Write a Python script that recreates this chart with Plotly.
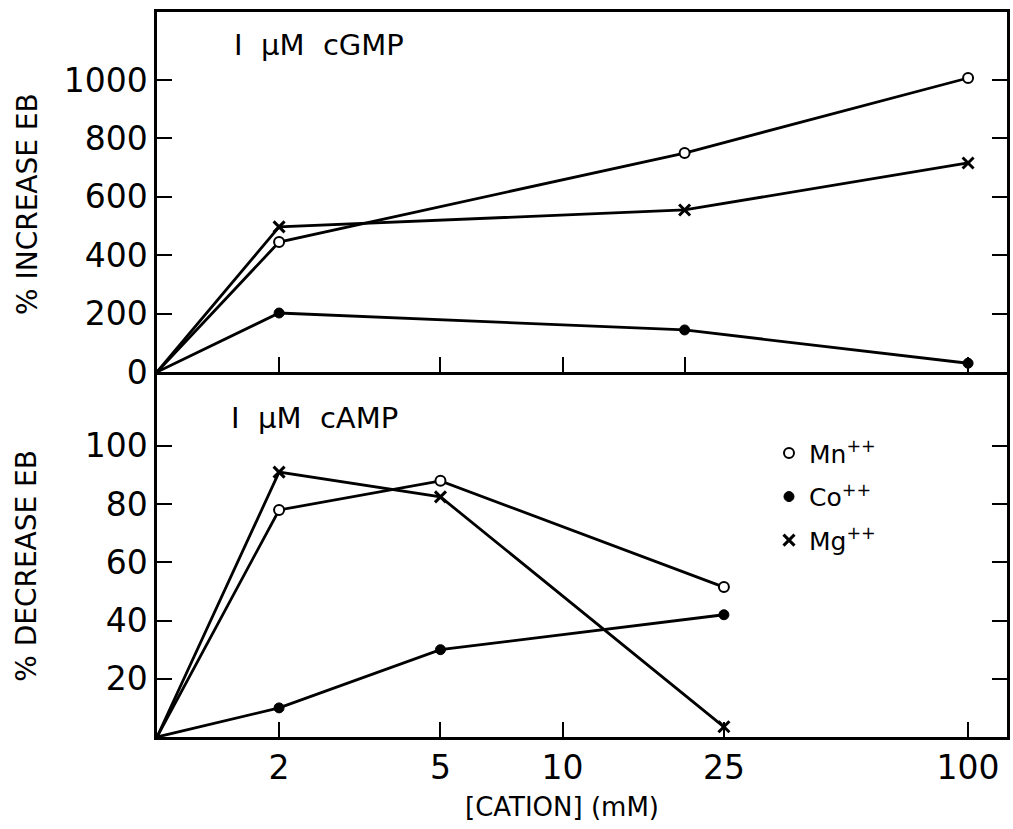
import plotly.graph_objects as go

# ---- data ----
# cation concentration (mM), origin drawn at 1 mM on the log axis
cgmp_x = [1, 2, 20, 100]
cgmp_mn = [0, 445, 750, 1007]
cgmp_co = [0, 202, 144, 30]
cgmp_mg = [0, 497, 555, 716]

camp_x = [1, 2, 5, 25]
camp_mn = [0, 78, 88, 51.5]
camp_co = [0, 10, 30, 42]
camp_mg = [0, 91, 82.5, 3.5]

top_ticks = [2, 5, 10, 20, 100]
bottom_ticks = [2, 5, 10, 25, 100]
bottom_tick_text = ["2", "5", "10", "25", "100"]
top_y_ticks = [0, 200, 400, 600, 800, 1000]
bottom_y_ticks = [20, 40, 60, 80, 100]

series_names = ["Mn<sup>++</sup>", "Co<sup>++</sup>", "Mg<sup>++</sup>"]

FONT = "DejaVu Sans"
BLACK = "black"

marker_styles = [
    dict(symbol="circle", size=10, color="white", line=dict(color=BLACK, width=2)),
    dict(symbol="circle", size=10, color=BLACK, line=dict(color=BLACK, width=1)),
    dict(symbol="x-thin", size=11, color=BLACK, line=dict(color=BLACK, width=3)),
]

fig = go.Figure()

panels = [
    (cgmp_x, [cgmp_mn, cgmp_co, cgmp_mg], "x2", "y2", False),
    (camp_x, [camp_mn, camp_co, camp_mg], "x", "y", True),
]

# lines first
for xs, ys_list, xa, ya, _ in panels:
    for ys in ys_list:
        fig.add_trace(go.Scatter(x=xs, y=ys, mode="lines", xaxis=xa, yaxis=ya,
                                 line=dict(color=BLACK, width=2.8),
                                 showlegend=False, hoverinfo="skip"))
# markers (not at origin)
for xs, ys_list, xa, ya, legend in panels:
    for name, ys, ms in zip(series_names, ys_list, marker_styles):
        fig.add_trace(go.Scatter(x=xs[1:], y=ys[1:], mode="markers", xaxis=xa, yaxis=ya,
                                 marker=ms, name=name, showlegend=legend,
                                 legendgroup=name, cliponaxis=False))

split = 365 / 725

axis_common = dict(showline=True, linecolor=BLACK, linewidth=2.5, ticks="inside",
                   tickcolor=BLACK, tickwidth=2, ticklen=15, showgrid=False,
                   zeroline=False, tickfont=dict(family=FONT, size=33, color=BLACK))

fig.update_layout(
    width=1013, height=829,
    margin=dict(l=157, r=3, t=12, b=92),
    paper_bgcolor="white", plot_bgcolor="white",
    font=dict(family=FONT, color=BLACK),
    xaxis=dict(type="log", range=[0, 2.096], domain=[0, 1], anchor="y",
               tickvals=bottom_ticks, ticktext=bottom_tick_text, mirror=False,
               **axis_common),
    yaxis=dict(range=[0, 125.4], domain=[0, split], anchor="x",
               tickvals=bottom_y_ticks, mirror="ticks", **axis_common),
    xaxis2=dict(type="log", range=[0, 2.096], domain=[0, 1], anchor="y2",
                tickvals=top_ticks, showticklabels=False, mirror=True,
                **axis_common),
    yaxis2=dict(range=[0, 1233], domain=[split, 1], anchor="x2",
                tickvals=top_y_ticks, mirror="ticks", **axis_common),
    legend=dict(x=0.72, y=0.423, xanchor="left", yanchor="top",
                bgcolor="rgba(0,0,0,0)", font=dict(family=FONT, size=25, color=BLACK),
                itemwidth=30, tracegroupgap=8),
    showlegend=True,
)

title_font = dict(family=FONT, size=29, color=BLACK)
axis_title_font = dict(family=FONT, size=28, color=BLACK)
fig.add_annotation(text="I  µM  cGMP", xref="paper", yref="paper", x=0.088, y=0.955,
                   xanchor="left", yanchor="middle", showarrow=False, font=title_font)
fig.add_annotation(text="I  µM  cAMP", xref="paper", yref="paper", x=0.085, y=0.44,
                   xanchor="left", yanchor="middle", showarrow=False, font=title_font)
fig.add_annotation(text="% INCREASE EB", xref="paper", yref="paper", x=-0.153, y=0.735,
                   textangle=-90, xanchor="center", yanchor="middle", showarrow=False,
                   font=axis_title_font)
fig.add_annotation(text="% DECREASE EB", xref="paper", yref="paper", x=-0.153, y=0.236,
                   textangle=-90, xanchor="center", yanchor="middle", showarrow=False,
                   font=axis_title_font)
fig.add_annotation(text="[CATION] (mM)", xref="paper", yref="paper", x=0.476, y=-0.097,
                   xanchor="center", yanchor="middle", showarrow=False,
                   font=dict(family=FONT, size=26, color=BLACK))

fig.write_html("out.html")
